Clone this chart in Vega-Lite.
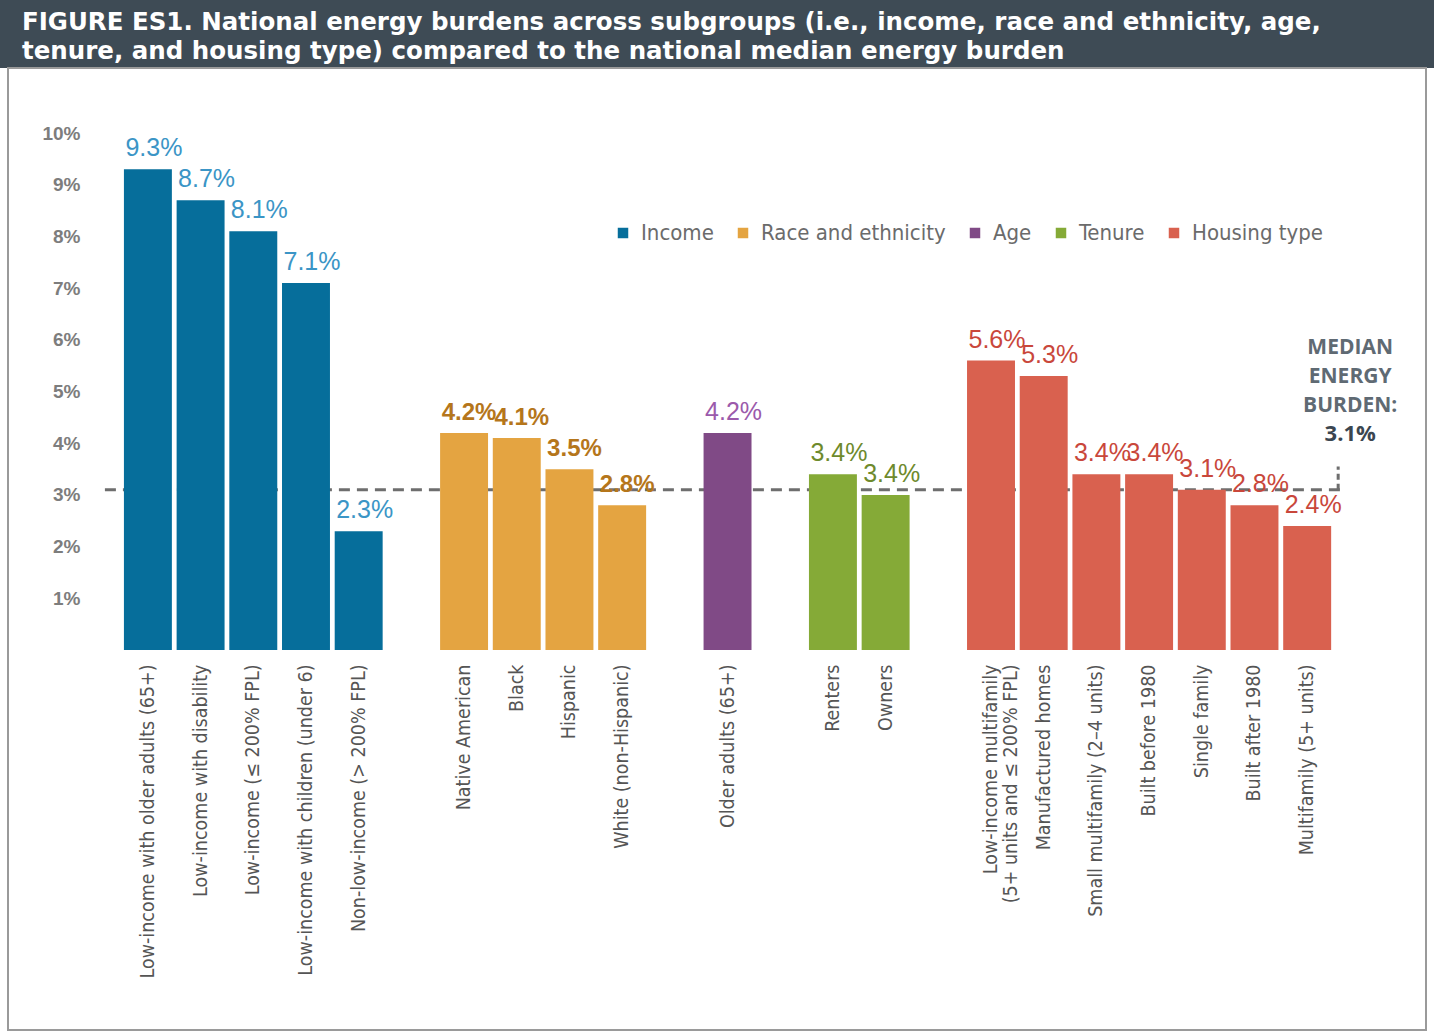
{
  "$schema": "https://vega.github.io/schema/vega-lite/v6.json",
  "padding": 0,
  "background": "white",
  "spacing": 0,
  "bounds": "flush",
  "center": true,
  "config": {"view": {"stroke": null}},
  "vconcat": [
    {
      "width": 1434,
      "height": 68,
      "view": {"fill": "#3e4b55", "stroke": null},
      "title": {
        "text": ["FIGURE ES1. National energy burdens across subgroups (i.e., income, race and ethnicity, age,", "tenure, and housing type) compared to the national median energy burden"],
        "anchor": "start",
        "frame": "group",
        "offset": -64,
        "baseline": "top",
        "dx": 22,
        "font": "DejaVu Sans",
        "fontSize": 24.5,
        "fontWeight": "bold",
        "color": "white",
        "lineHeight": 29
      },
      "data": {"values": [{}]},
      "mark": {"type": "text"},
      "encoding": {"text": {"value": ""}}
    },
    {
      "width": 1418,
      "height": 962,
      "view": {"stroke": "#9a9a9a", "strokeWidth": 2, "fill": "white"},
      "data": {
        "values": [
          {"category": "Low-income with older adults (65+)", "group": "Income", "value": 9.3, "label": "9.3%"},
          {"category": "Low-income with disability", "group": "Income", "value": 8.7, "label": "8.7%"},
          {"category": "Low-income (≤ 200% FPL)", "group": "Income", "value": 8.1, "label": "8.1%"},
          {"category": "Low-income with children (under 6)", "group": "Income", "value": 7.1, "label": "7.1%"},
          {"category": "Non-low-income (> 200% FPL)", "group": "Income", "value": 2.3, "label": "2.3%"},
          {"category": "Native American", "group": "Race and ethnicity", "value": 4.2, "label": "4.2%"},
          {"category": "Black", "group": "Race and ethnicity", "value": 4.1, "label": "4.1%"},
          {"category": "Hispanic", "group": "Race and ethnicity", "value": 3.5, "label": "3.5%"},
          {"category": "White (non-Hispanic)", "group": "Race and ethnicity", "value": 2.8, "label": "2.8%"},
          {"category": "Older adults (65+)", "group": "Age", "value": 4.2, "label": "4.2%"},
          {"category": "Renters", "group": "Tenure", "value": 3.4, "label": "3.4%"},
          {"category": "Owners", "group": "Tenure", "value": 3.0, "label": "3.4%"},
          {"category": "Low-income multifamily|(5+ units and ≤ 200% FPL)", "group": "Housing type", "value": 5.6, "label": "5.6%"},
          {"category": "Manufactured homes", "group": "Housing type", "value": 5.3, "label": "5.3%"},
          {"category": "Small multifamily (2–4 units)", "group": "Housing type", "value": 3.4, "label": "3.4%"},
          {"category": "Built before 1980", "group": "Housing type", "value": 3.4, "label": "3.4%"},
          {"category": "Single family", "group": "Housing type", "value": 3.1, "label": "3.1%"},
          {"category": "Built after 1980", "group": "Housing type", "value": 2.8, "label": "2.8%"},
          {"category": "Multifamily (5+ units)", "group": "Housing type", "value": 2.4, "label": "2.4%"}
        ]
      },
      "resolve": {"scale": {"color": "independent"}},
      "layer": [
        {
          "data": {"values": [{}]},
          "mark": {"type": "rule", "strokeDash": [11, 7], "color": "#6e6e6e", "strokeWidth": 3, "xOffset": -43, "x2Offset": 33},
          "encoding": {
            "x": {"datum": "Low-income with older adults (65+)", "type": "nominal"},
            "x2": {"datum": "Multifamily (5+ units)"},
            "y": {"datum": 3.1, "type": "quantitative"}
          }
        },
        {
          "data": {"values": [{}]},
          "mark": {"type": "rule", "strokeDash": [6, 4], "color": "#6e6e6e", "strokeWidth": 3, "xOffset": 31},
          "encoding": {
            "x": {"datum": "Multifamily (5+ units)", "type": "nominal"},
            "y": {"datum": 3.1, "type": "quantitative"},
            "y2": {"datum": 3.55}
          }
        },
        {
          "mark": {"type": "bar"},
          "encoding": {
            "x": {
              "field": "category",
              "type": "nominal",
              "sort": null,
              "scale": {
                "domain": [
                  "gap0",
                  "Low-income with older adults (65+)", "Low-income with disability", "Low-income (≤ 200% FPL)", "Low-income with children (under 6)", "Non-low-income (> 200% FPL)",
                  "gap1",
                  "Native American", "Black", "Hispanic", "White (non-Hispanic)",
                  "gap2",
                  "Older adults (65+)",
                  "gap3",
                  "Renters", "Owners",
                  "gap4",
                  "Low-income multifamily|(5+ units and ≤ 200% FPL)", "Manufactured homes", "Small multifamily (2–4 units)", "Built before 1980", "Single family", "Built after 1980", "Multifamily (5+ units)",
                  "gap5"
                ],
                "paddingInner": 0.09,
                "paddingOuter": 1,
                "align": 0.6,
                "round": false
              },
              "axis": {
                "orient": "bottom",
                "offset": -378,
                "domain": false,
                "ticks": false,
                "title": null,
                "labelAngle": -90,
                "labelAlign": "right",
                "labelBaseline": "middle",
                "labelPadding": 12,
                "labelFont": "Liberation Sans Narrow, DejaVu Sans Condensed, sans-serif",
                "labelFontSize": 19.5,
                "labelColor": "#555555",
                "labelLimit": 0,
                "labelOverlap": false,
                "labelLineHeight": 20,
                "labelExpr": "indexof(datum.value, 'gap') == 0 ? '' : split(datum.value, '|')"
              }
            },
            "y": {
              "field": "value",
              "type": "quantitative",
              "scale": {"domain": [-7.35, 11.26], "nice": false, "zero": false},
              "axis": {
                "orient": "left",
                "offset": -72,
                "values": [1, 2, 3, 4, 5, 6, 7, 8, 9, 10],
                "labelExpr": "datum.value + '%'",
                "domain": false,
                "ticks": false,
                "grid": false,
                "labelPadding": 0,
                "title": null,
                "labelFont": "Liberation Sans",
                "labelFontSize": 19,
                "labelFontWeight": "bold",
                "labelColor": "#7d7d7d"
              }
            },
            "y2": {"datum": 0},
            "color": {
              "field": "group",
              "type": "nominal",
              "scale": {
                "domain": ["Income", "Race and ethnicity", "Age", "Tenure", "Housing type"],
                "range": ["#066e9b", "#e4a441", "#804a86", "#85aa37", "#d9614f"]
              },
              "legend": {
                "title": null,
                "orient": "none",
                "legendX": 604,
                "legendY": 154,
                "direction": "horizontal",
                "symbolType": "square",
                "symbolSize": 110,
                "symbolStrokeWidth": 0,
                "labelFont": "Liberation Sans Narrow, DejaVu Sans Condensed, sans-serif",
                "labelFontSize": 22,
                "labelLimit": 0,
                "labelColor": "#6b6b6b",
                "columnPadding": 18,
                "labelOffset": 7
              }
            }
          }
        },
        {
          "transform": [{"filter": "datum.group != 'Race and ethnicity'"}],
          "mark": {"type": "text", "font": "Liberation Sans", "fontSize": 25, "baseline": "alphabetic", "dy": -13, "dx": 6},
          "encoding": {
            "x": {"field": "category", "type": "nominal"},
            "y": {"field": "value", "type": "quantitative"},
            "text": {"field": "label"},
            "color": {
              "field": "group",
              "type": "nominal",
              "scale": {
                "domain": ["Income", "Race and ethnicity", "Age", "Tenure", "Housing type"],
                "range": ["#3b95c6", "#b5761b", "#9b5aab", "#6e8a2c", "#c9473b"]
              },
              "legend": null
            }
          }
        },
        {
          "transform": [{"filter": "datum.group == 'Race and ethnicity'"}],
          "mark": {"type": "text", "font": "Liberation Sans", "fontSize": 24, "fontWeight": "bold", "baseline": "alphabetic", "dy": -13, "dx": 5, "color": "#b5761b"},
          "encoding": {
            "x": {"field": "category", "type": "nominal"},
            "y": {"field": "value", "type": "quantitative"},
            "text": {"field": "label"}
          }
        },
        {
          "data": {"values": [{}]},
          "mark": {"type": "text", "align": "center", "baseline": "top", "dx": 43, "font": "Open Sans", "fontSize": 21, "fontWeight": "bold", "lineHeight": 29, "color": "#5f6a73"},
          "encoding": {
            "x": {"datum": "Multifamily (5+ units)", "type": "nominal"},
            "y": {"datum": 6.05, "type": "quantitative"},
            "text": {"value": ["MEDIAN", "ENERGY", "BURDEN:"]}
          }
        },
        {
          "data": {"values": [{}]},
          "mark": {"type": "text", "align": "center", "baseline": "top", "dx": 43, "font": "Open Sans", "fontSize": 22, "fontWeight": "bold", "color": "#3b4650"},
          "encoding": {
            "x": {"datum": "Multifamily (5+ units)", "type": "nominal"},
            "y": {"datum": 4.37, "type": "quantitative"},
            "text": {"value": "3.1%"}
          }
        }
      ]
    }
  ]
}
